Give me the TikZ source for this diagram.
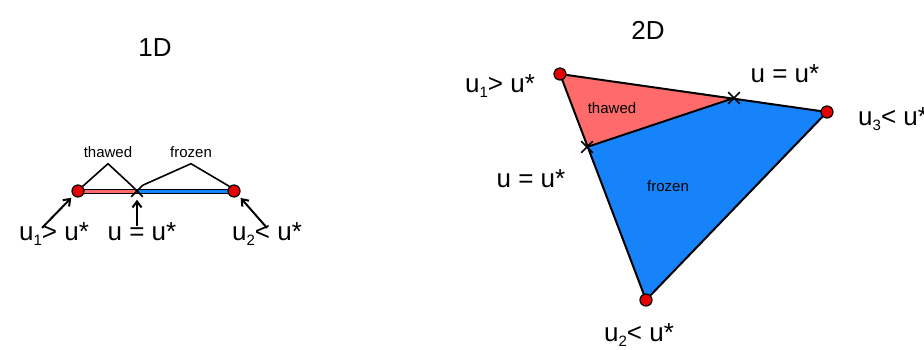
\documentclass[tikz,border=0pt]{standalone}
\usepackage{fontspec}
\setmainfont{Liberation Sans}
\usetikzlibrary{arrows.meta,shapes.misc}
\definecolor{pthaw}{HTML}{FF6B6B}
\definecolor{pfrozen}{HTML}{1683FA}
\definecolor{pdot}{HTML}{E60000}
\newcommand{\lsub}[1]{\raisebox{-5pt}{\fontsize{15}{15}\selectfont #1}}

\begin{document}
\begin{tikzpicture}[x=1pt,y=-1pt,
  big/.style={font=\fontsize{26}{30}\selectfont,inner sep=0pt},
  small/.style={font=\fontsize{15}{18}\selectfont,inner sep=1pt},
  vtx/.style={circle,draw=black,fill=pdot,line width=1.2pt,minimum size=12pt,inner sep=0pt},
  xm/.style={cross out,draw=black,line width=1.6pt,minimum size=10pt,inner sep=0pt},
  a/.style={-{Straight Barb[length=6pt,width=9pt]},line width=2pt,shorten >=3pt},
  br/.style={line width=1.6pt},
  edge/.style={line width=2pt,line join=round}]
\useasboundingbox (0,0) rectangle (924,349);

% 1D
\node[big] (t1) at (155,48) {1D};
\coordinate (p1) at (78,191);
\coordinate (q1) at (137,191);
\coordinate (p2) at (234,191);
\draw[line width=5pt] (p1) -- (p2);
\draw[pthaw,line width=3pt] (p1) -- (q1);
\draw[pfrozen,line width=3pt] (q1) -- (p2);
\node[vtx] (v1) at (p1) {};
\node[vtx] (v2) at (p2) {};
\node[xm] (x1) at (q1) {};

\node[small] (thaw1) at (108,152) {thawed};
\node[small] (froz1) at (191,152) {frozen};
\draw[br] (v1.north east) -- ([yshift=-5pt]thaw1.south) -- (x1.north west);
\draw[br] (x1.north east) -- ([yshift=-5pt]froz1.south) -- (v2.north west);

\node[big,anchor=base] (l1) at (54,240) {u\lsub{1}> u*};
\node[big,anchor=base] (l2) at (142,240) {u = u*};
\node[big,anchor=base] (l3) at (267,240) {u\lsub{2}< u*};
\draw[a] ([xshift=-12pt,yshift=-6pt]l1.north) -- (v1.south west);
\draw[a] ([xshift=-5pt,yshift=-4pt]l2.north) -- (x1.south);
\draw[a] ([yshift=-6pt]l3.north) -- (v2.south east);

% 2D
\node[big] (t2) at (648,30) {2D};
\coordinate (c1) at (560,74);
\coordinate (c3) at (827,112);
\coordinate (c2) at (646,300);
\coordinate (ct) at (734,98);
\coordinate (cl) at (587,147);
\fill[pthaw] (c1) -- (ct) -- (cl) -- cycle;
\fill[pfrozen] (cl) -- (ct) -- (c3) -- (c2) -- cycle;
\draw[edge] (c1) -- (c3) -- (c2) -- cycle;
\draw[edge] (cl) -- (ct);
\node[vtx] (w1) at (c1) {};
\node[vtx] (w2) at (c2) {};
\node[vtx] (w3) at (c3) {};
\node[xm] (xt) at (ct) {};
\node[xm] (xl) at (cl) {};

\node[small] (thaw2) at (612,108) {thawed};
\node[small] (froz2) at (668,186) {frozen};

\node[big,anchor=base] (m1) at (500,92) {u\lsub{1}> u*};
\node[big,anchor=base] (m2) at (785,82) {u = u*};
\node[big,anchor=base west] (m3) at (858,125) {u\lsub{3}< u*};
\node[big,anchor=base] (m4) at (531,187) {u = u*};
\node[big,anchor=base] (m5) at (639,341) {u\lsub{2}< u*};
\end{tikzpicture}
\end{document}
